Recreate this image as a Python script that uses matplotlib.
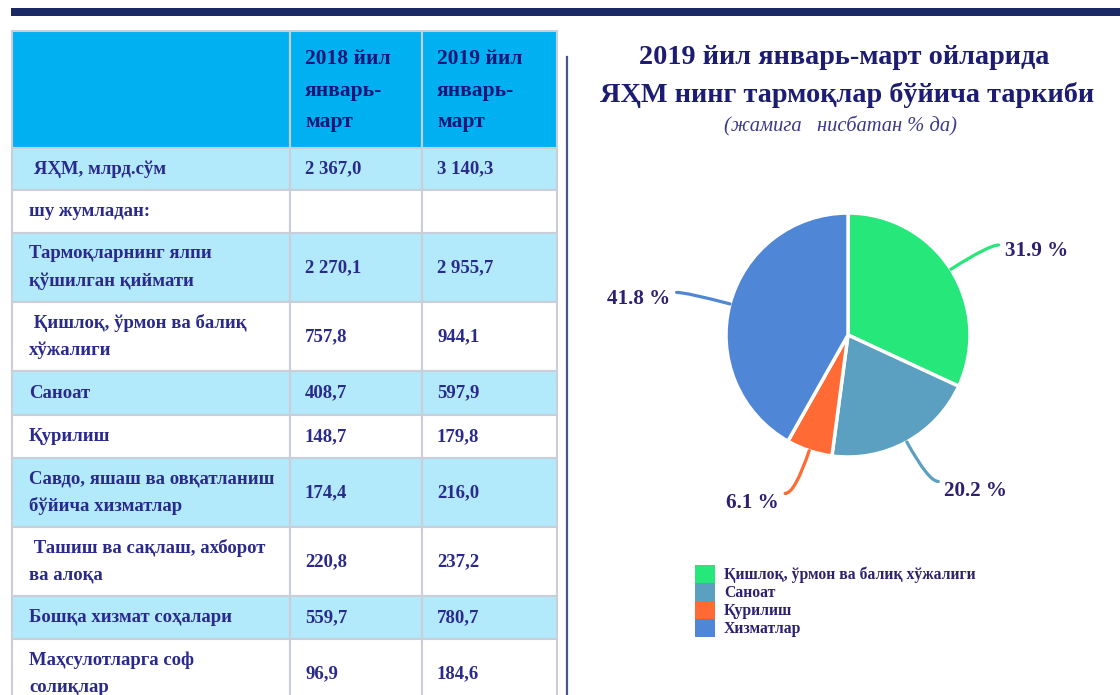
import matplotlib
matplotlib.use("Agg")
import matplotlib.pyplot as plt
import numpy as np
from matplotlib.patches import Rectangle, Patch, PathPatch
from matplotlib.path import Path

plt.rcParams["font.family"] = ["Liberation Serif", "DejaVu Serif"]

# ---- table data ----
year_headers = ["2018 йил\nянварь-\nмарт", "2019 йил\nянварь-\nмарт"]
row_labels = [
    " ЯҲМ, млрд.сўм",
    "шу жумладан:",
    "Тармоқларнинг ялпи\nқўшилган қиймати",
    " Қишлоқ, ўрмон ва балиқ\nхўжалиги",
    "Саноат",
    "Қурилиш",
    "Савдо, яшаш ва овқатланиш\nбўйича хизматлар",
    " Ташиш ва сақлаш, ахборот\nва алоқа",
    "Бошқа хизмат соҳалари",
    "Маҳсулотларга соф\nсолиқлар",
]
values_2018 = [2367.0, None, 2270.1, 757.8, 408.7, 148.7, 174.4, 220.8, 559.7, 96.9]
values_2019 = [3140.3, None, 2955.7, 944.1, 597.9, 179.8, 216.0, 237.2, 780.7, 184.6]

# ---- pie data ----
pie_title = "2019 йил январь-март ойларида\nЯҲМ нинг тармоқлар бўйича таркиби"
pie_subtitle = "(жамига   нисбатан % да)"
pie_labels = ["Қишлоқ, ўрмон ва балиқ хўжалиги", "Саноат", "Қурилиш", "Хизматлар"]
pie_shares = [31.9, 20.2, 6.1, 41.8]
pie_colors = ["#26e87a", "#5b9fc1", "#ff6a35", "#4f86d6"]

# ---- layout (pixels) ----
W, H = 1120, 695
col_edges = [12, 290, 422, 557]
header_top, header_bottom = 31, 148
row_edges = [148, 190, 233, 302, 371, 415, 458, 527, 596, 639, 708]
LINE_STEP = 27

HEADER_BG = "#00b0f0"
LIGHT_BG = "#b3eafb"
BORDER = "#c9ced9"
HEADER_TXT = "#16167a"
BODY_TXT = "#2a2a8c"
LABEL_TXT = "#2c2170"


def fmt_num(v):
    if v is None:
        return ""
    return f"{v:,.1f}".replace(",", " ").replace(".", ",")


def put_lines(ax, x, yc, text, step, **kw):
    lines = text.split("\n")
    n = len(lines)
    for i, line in enumerate(lines):
        y = yc + (i - (n - 1) / 2) * step
        ax.text(x, y, line, va="center", ha="left", **kw)


fig = plt.figure(figsize=(W / 100, H / 100), dpi=100)
bg = fig.add_axes([0, 0, 1, 1])
bg.set_xlim(0, W)
bg.set_ylim(H, 0)
bg.axis("off")

# top bar and separator
bg.add_patch(Rectangle((11, 8), W - 11, 8, facecolor="#1b2866", edgecolor="none"))
bg.plot([567, 567], [57, H], color="#4a5590", lw=1.6)

# header row
for j in range(3):
    bg.add_patch(Rectangle((col_edges[j], header_top), col_edges[j + 1] - col_edges[j],
                           header_bottom - header_top, facecolor=HEADER_BG,
                           edgecolor=BORDER, lw=1.5))
hc = (header_top + header_bottom) / 2 + 1.5
for j, txt in enumerate(year_headers):
    put_lines(bg, col_edges[j + 1] + 15, hc, txt, 31.5, fontsize=15.5,
              fontweight="bold", color=HEADER_TXT)

# body rows
for i, label in enumerate(row_labels):
    y0, y1 = row_edges[i], row_edges[i + 1]
    fc = LIGHT_BG if i % 2 == 0 else "white"
    for j in range(3):
        bg.add_patch(Rectangle((col_edges[j], y0), col_edges[j + 1] - col_edges[j], y1 - y0,
                               facecolor=fc, edgecolor=BORDER, lw=1.5))
    yc = (y0 + y1) / 2
    put_lines(bg, col_edges[0] + 17, yc, label, LINE_STEP, fontsize=13.5,
              fontweight="bold", color=BODY_TXT)
    bg.text(col_edges[1] + 15, yc, fmt_num(values_2018[i]), va="center", ha="left",
            fontsize=13.5, fontweight="bold", color=BODY_TXT)
    bg.text(col_edges[2] + 15, yc, fmt_num(values_2019[i]), va="center", ha="left",
            fontsize=13.5, fontweight="bold", color=BODY_TXT)

# titles
t1, t2 = pie_title.split("\n")
bg.text(844, 64, t1, ha="center", va="baseline", fontsize=20.3, fontweight="bold", color="#1c1c72")
bg.text(847, 102, t2, ha="center", va="baseline", fontsize=20.3, fontweight="bold", color="#1c1c72")
bg.text(840, 131, pie_subtitle, ha="center", va="baseline", fontsize=14.8, fontstyle="italic",
        color="#3a3a8a")

# ---- pie ----
cx, cy, R = 848, 335, 122
HALF = 2.2
hp = HALF * R
ax = fig.add_axes([(cx - hp) / W, (H - cy - hp) / H, 2 * hp / W, 2 * hp / H])
wedges, _ = ax.pie(pie_shares, colors=pie_colors, startangle=90, counterclock=False,
                   radius=1, wedgeprops=dict(edgecolor="white", linewidth=2.5))
ax.set_xlim(-HALF, HALF)
ax.set_ylim(-HALF, HALF)
ax.axis("off")

for w, share in zip(wedges, pie_shares):
    ang = np.deg2rad((w.theta1 + w.theta2) / 2)
    c, s = np.cos(ang), np.sin(ang)
    side = 1 if c >= 0 else -1
    p0 = (1.0 * c, 1.0 * s)
    p1 = (1.37 * c, 1.37 * s)
    p2 = (p1[0] + side * 0.08, p1[1])
    path = Path([p0, p1, p2], [Path.MOVETO, Path.CURVE3, Path.CURVE3])
    ax.add_patch(PathPatch(path, facecolor="none", edgecolor=w.get_facecolor(), lw=2.3,
                           capstyle="round"))
    ax.text(p2[0] + side * 0.05, p2[1] - 0.05 + min(s, 0) * 0.03, f"{share:.1f} %",
            ha="left" if side > 0 else "right", va="center", fontsize=15.2,
            fontweight="bold", color=LABEL_TXT)

handles = [Patch(facecolor=c, edgecolor="none") for c in pie_colors]
leg = fig.legend(handles, pie_labels, loc="upper left",
                 bbox_to_anchor=(695 / W, 1 - 565 / H), bbox_transform=fig.transFigure,
                 frameon=False, fontsize=11.3, labelspacing=0, handlelength=1.3,
                 handleheight=1.35, handletextpad=0.55, borderpad=0, borderaxespad=0)
for t in leg.get_texts():
    t.set_color(LABEL_TXT)
    t.set_fontweight("bold")

fig.savefig("out.png", dpi=100)
